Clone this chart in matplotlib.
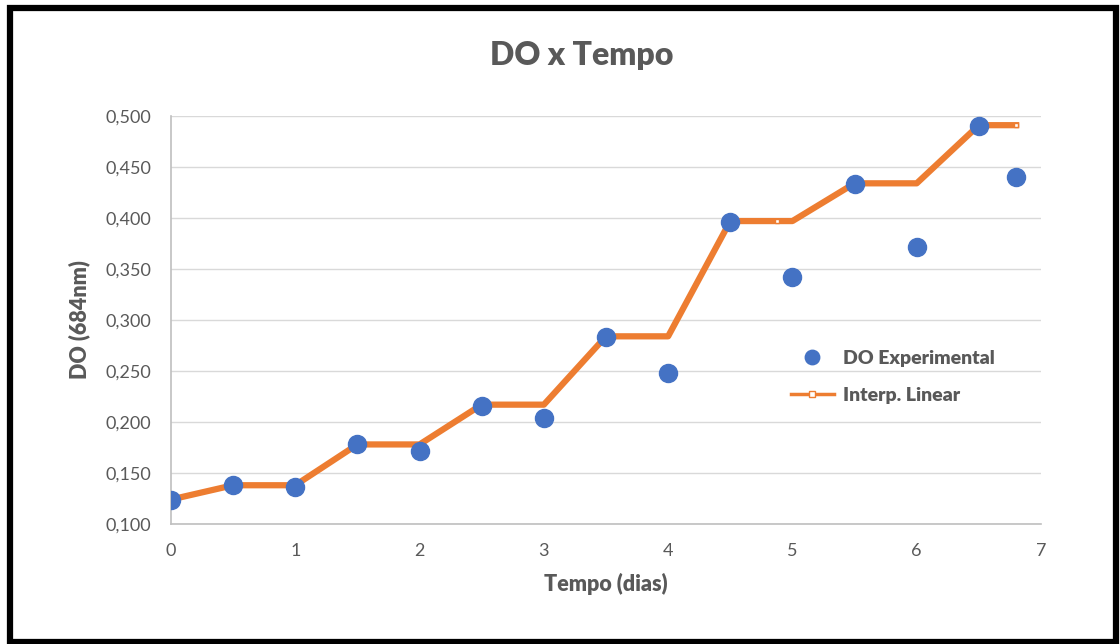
import matplotlib
matplotlib.use('Agg')
import matplotlib.pyplot as plt
from matplotlib.patches import Rectangle
from matplotlib.ticker import FuncFormatter

# experimental points
t_exp = [0, 0.5, 1, 1.5, 2, 2.5, 3, 3.5, 4, 4.5, 5, 5.5, 6, 6.5, 6.8]
do_exp = [0.124, 0.138, 0.136, 0.178, 0.172, 0.216, 0.204, 0.283, 0.248,
          0.396, 0.342, 0.433, 0.372, 0.490, 0.440]

# linear interpolation curve
t_int = [0, 0.5, 1, 1.5, 2, 2.5, 3, 3.5, 4, 4.5, 4.875, 5, 5.5, 6, 6.5, 6.8]
do_int = [0.124, 0.138, 0.138, 0.178, 0.178, 0.217, 0.217, 0.284, 0.284,
          0.397, 0.397, 0.397, 0.434, 0.434, 0.491, 0.491]
# which interpolation points carry a marker
marked = [0, 1, 3, 5, 7, 9, 10, 12, 14, 15]

x_ticks = [0, 1, 2, 3, 4, 5, 6, 7]
y_ticks = [0.100, 0.150, 0.200, 0.250, 0.300, 0.350, 0.400, 0.450, 0.500]

plt.rcParams['font.family'] = ['Lato', 'DejaVu Sans']
grey = '#595959'

fig = plt.figure(figsize=(11.2, 6.44), dpi=100)
ax = fig.add_axes([171/1120, 1 - 524/644, 870/1120, 408/644])

ax.plot(t_int, do_int, color='#ED7D31', lw=4.5, marker='s', ms=3, markevery=marked,
        mfc='white', mec='#ED7D31', mew=1, label='Interp. Linear', zorder=3)
ax.plot(t_exp, do_exp, 'o', color='#4472C4', ms=13, label='DO Experimental',
        zorder=4)

ax.set_xlim(0, 7)
ax.set_ylim(0.1, 0.5)
ax.set_xticks(x_ticks)
ax.set_yticks(y_ticks)
ax.yaxis.set_major_formatter(FuncFormatter(lambda v, p: f'{v:.3f}'.replace('.', ',')))
ax.grid(axis='y', color='#D9D9D9', lw=1)
ax.set_axisbelow(True)
for s in ['top', 'right']:
    ax.spines[s].set_visible(False)
for s in ['left', 'bottom']:
    ax.spines[s].set_color('#BFBFBF')
    ax.spines[s].set_linewidth(1.2)
ax.tick_params(length=0, labelsize=13, labelcolor=grey)
ax.tick_params(axis='x', pad=14)
ax.tick_params(axis='y', pad=14)

fig.text(582/1120, 1 - 55/644, 'DO x Tempo', fontsize=23, fontweight='heavy',
         color=grey, ha='center', va='center')
ax.set_xlabel('Tempo (dias)', fontsize=15.5, fontweight='heavy', color=grey, labelpad=10)
ax.set_ylabel('DO (684nm)', fontsize=15.5, fontweight='heavy', color=grey, labelpad=11)

h, l = ax.get_legend_handles_labels()
leg = ax.legend(h[::-1], l[::-1], loc='center', bbox_to_anchor=(893/1120, 1 - 377/644),
                bbox_transform=fig.transFigure, frameon=False, fontsize=14,
                labelspacing=1.0, handlelength=2.2, handletextpad=0.5, markerscale=0.8)
for t in leg.get_texts():
    t.set_color(grey)
    t.set_fontweight('heavy')
for ln in leg.get_lines():
    if ln.get_label() == 'Interp. Linear':
        ln.set_linewidth(2.5)
        ln.set_markersize(5)
leg.get_lines()[1].set_linewidth(2.5)
leg.get_lines()[1].set_markersize(5)

# outer frame
fig.patches.append(Rectangle((10/1120, 2/644), 1106/1120, 634/644, transform=fig.transFigure,
                             fill=False, ec='black', lw=4.5))

fig.savefig('out.png', dpi=100)
